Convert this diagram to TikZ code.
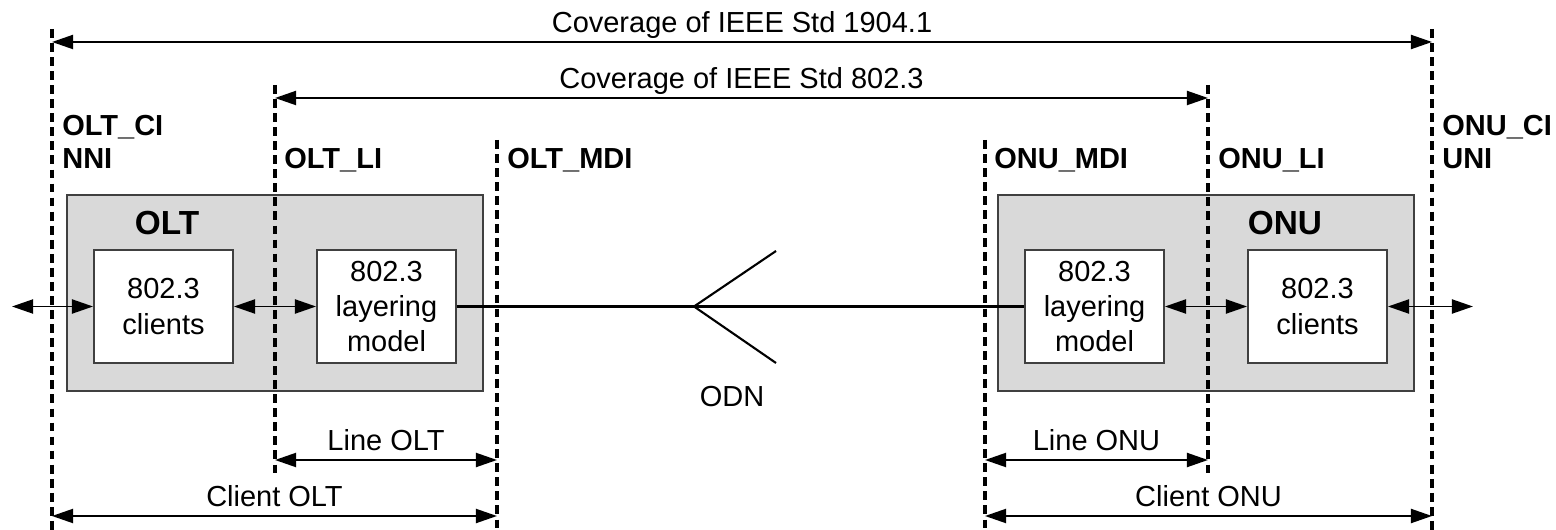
\documentclass[tikz,border=0pt]{standalone}
\usepackage{fontspec}
\setmainfont{Liberation Sans}
\usetikzlibrary{arrows.meta, positioning, calc}
\definecolor{boxGray}{HTML}{D9D9D9}
\definecolor{edgeGray}{HTML}{404040}

\begin{document}
\begin{tikzpicture}[x=0.02cm, y=-0.02cm,
    ifline/.style={line width=2.3pt, dash pattern=on 5pt off 3pt},
    biarrow/.style={line width=1.1pt, {Triangle[length=12pt,width=8pt]}-{Triangle[length=12pt,width=8pt]}},
    dimlabel/.style={font=\fontsize{16.5}{19}\selectfont, inner sep=0pt, anchor=base, yshift=5.5pt},
    iflabel/.style={font=\bfseries\fontsize{16.5}{19}\selectfont, inner sep=0pt, anchor=base west},
    unitbox/.style={rectangle, draw=edgeGray, fill=boxGray, line width=1.1pt,
      minimum width=8.32cm, minimum height=3.92cm},
    unitname/.style={font=\bfseries\fontsize{19}{22}\selectfont, inner sep=0pt, anchor=base},
    blockbox/.style={rectangle, draw=edgeGray, fill=white, line width=1.1pt,
      minimum width=2.78cm, minimum height=2.26cm, align=center,
      font=\fontsize{16.5}{20}\selectfont}
  ]
  \useasboundingbox (0,0) rectangle (1556,530);
  % OLT and ONU
  \node[unitbox] (olt) at (275,293) {};
  \node[unitbox] (onu) at (1206,293) {};
  \node[unitname] (oltname) at (167,235) {OLT};
  \node[unitname] (onuname) at (1285,235) {ONU};
  \node[blockbox] (oltcl) at (163.5,306.5) {802.3\\clients};
  \node[blockbox] (oltlm) at (386.5,306.5) {802.3\\layering\\model};
  \node[blockbox] (onulm) at (1094.5,306.5) {802.3\\layering\\model};
  \node[blockbox] (onucl) at (1317.5,306.5) {802.3\\clients};
  % interfaces
  \foreach \name/\x/\ytop/\ybot in {oltci/52/29/530, oltli/275/85/473, oltmdi/497/140/530,
      onumdi/985/140/530, onuli/1208/85/473, onuci/1432/29/530} {
    \coordinate (\name-t) at (\x,\ytop);
    \coordinate (\name-b) at (\x,\ybot);
    \draw[ifline] (\name-t) -- (\name-b);
  }
  \node[iflabel] (oltciname) at (62,136) {OLT\_CI};
  \node[iflabel] (nniname) at (62,169) {NNI};
  \node[iflabel] (oltliname) at (284,169) {OLT\_LI};
  \node[iflabel] (oltmdiname) at (507,169) {OLT\_MDI};
  \node[iflabel] (onumdiname) at (994,169) {ONU\_MDI};
  \node[iflabel] (onuliname) at (1218,169) {ONU\_LI};
  \node[iflabel] (onuciname) at (1442,136) {ONU\_CI};
  \node[iflabel] (uniname) at (1442,169) {UNI};
  % coverage
  \draw[biarrow] (oltci-t |- 0,42) -- node[dimlabel] (cov1904) {Coverage of IEEE Std 1904.1} (onuci-t |- 0,42);
  \draw[biarrow] (oltli-t |- 0,98) -- node[dimlabel] (cov8023) {Coverage of IEEE Std 802.3} (onuli-t |- 0,98);
  \draw[biarrow] (oltli-t |- 0,460) -- node[dimlabel] (lineolt) {Line OLT} (oltmdi-t |- 0,460);
  \draw[biarrow] (oltci-t |- 0,516) -- node[dimlabel] (clientolt) {Client OLT} (oltmdi-t |- 0,516);
  \draw[biarrow] (onumdi-t |- 0,460) -- node[dimlabel] (lineonu) {Line ONU} (onuli-t |- 0,460);
  \draw[biarrow] (onumdi-t |- 0,516) -- node[dimlabel] (clientonu) {Client ONU} (onuci-t |- 0,516);
  % links
  \coordinate (nni) at (12,306.5);
  \coordinate (uni) at (1473,306.5);
  \draw[biarrow] (nni) -- (oltcl);
  \draw[biarrow] (oltcl) -- (oltlm);
  \draw[biarrow] (onulm) -- (onucl);
  \draw[biarrow] (onucl) -- (uni);
  \draw[line width=1.2pt] (oltlm) -- (onulm);
  % ODN splitter
  \coordinate (odn) at (694,306.5);
  \coordinate (odnup) at (776,251);
  \coordinate (odnlo) at (776,363);
  \draw[line width=1.2pt] (odnup) -- (odn) -- (odnlo);
  \node[font=\fontsize{16.5}{19}\selectfont, inner sep=0pt, anchor=base] (odnname) at (732,406) {ODN};
\end{tikzpicture}
\end{document}
